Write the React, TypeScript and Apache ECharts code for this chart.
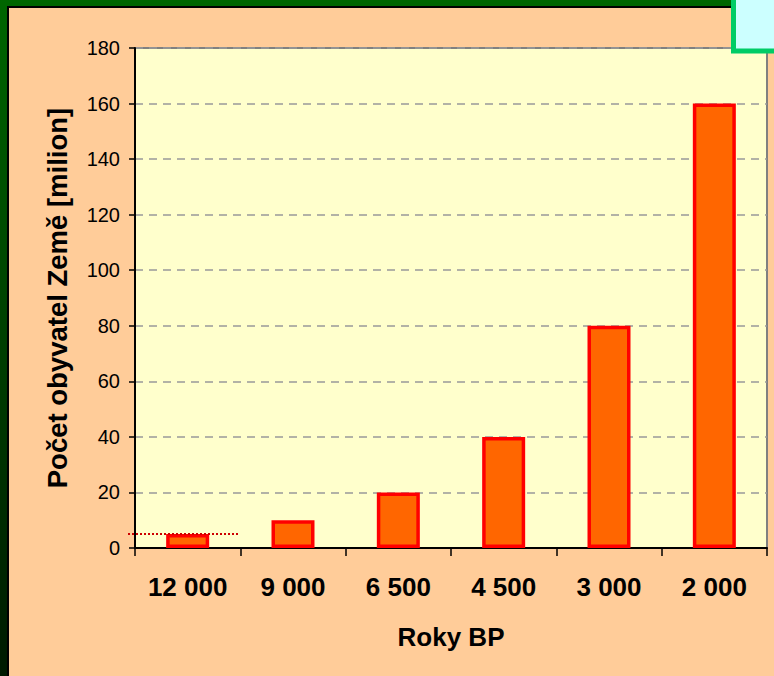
import React, { useEffect, useRef } from "react";
import * as echarts from "echarts";

const categories = ["12 000", "9 000", "6 500", "4 500", "3 000", "2 000"];
const population = [5, 10, 20, 40, 80, 160];
const referenceLevel = 5;
const yTicks = { min: 0, max: 180, interval: 20 };

const FONT = "'Liberation Sans', Arial, sans-serif";

export default function App() {
  const ref = useRef<HTMLDivElement>(null);
  useEffect(() => {
    document.body.style.margin = "0";
    const chart = echarts.init(ref.current!, undefined, { renderer: "svg" });
    chart.setOption({
      animation: false,
      graphic: [
        {
          type: "rect",
          z: -20,
          silent: true,
          shape: { x: 0, y: 0, width: 774, height: 676 },
          style: {
            fill: new echarts.graphic.LinearGradient(0, 0, 0, 1, [
              { offset: 0, color: "#006600" },
              { offset: 1, color: "#001a00" },
            ]),
          },
        },
        {
          type: "rect",
          z: -19,
          silent: true,
          shape: { x: 8, y: 7, width: 800, height: 700 },
          style: { fill: "#FFCC99", stroke: "#000000", lineWidth: 2 },
        },
        {
          type: "rect",
          z: 100,
          silent: true,
          shape: { x: 733.5, y: -10, width: 50, height: 61 },
          style: { fill: "#CCFFFF", stroke: "#00CC66", lineWidth: 5 },
        },
      ],
      grid: {
        left: 135,
        right: 7,
        top: 48,
        bottom: 128,
        show: true,
        backgroundColor: "#FFFFCC",
        borderColor: "#808080",
        borderWidth: 2,
      },
      xAxis: {
        type: "category",
        data: categories,
        name: "Roky BP",
        nameLocation: "middle",
        nameGap: 76,
        nameTextStyle: { fontFamily: FONT, fontSize: 26, fontWeight: "bold", color: "#000" },
        axisLine: { lineStyle: { color: "#000", width: 2 } },
        axisTick: { show: true, alignWithLabel: false, length: 8, lineStyle: { color: "#000", width: 1.5 } },
        axisLabel: { fontFamily: FONT, fontSize: 26, fontWeight: "bold", color: "#000", margin: 26 },
        splitLine: { show: false },
      },
      yAxis: {
        type: "value",
        min: yTicks.min,
        max: yTicks.max,
        interval: yTicks.interval,
        name: "Počet obyvatel Země [milion]",
        nameLocation: "middle",
        nameGap: 64,
        nameTextStyle: { fontFamily: FONT, fontSize: 27.5, fontWeight: "bold", color: "#000" },
        axisLine: { show: true, lineStyle: { color: "#000", width: 2 } },
        axisTick: { show: true, length: 6, lineStyle: { color: "#000", width: 1.5 } },
        axisLabel: { fontFamily: FONT, fontSize: 20, color: "#000", margin: 15 },
        splitLine: { show: true, lineStyle: { color: "#999999", type: [8, 6], width: 1.5 } },
      },
      series: [
        {
          type: "bar",
          data: population,
          barWidth: 43,
          itemStyle: { color: "#FF6600", borderColor: "#FF0000", borderWidth: 3.5 },
          markLine: {
            silent: true,
            symbol: "none",
            label: { show: false },
            lineStyle: { color: "#CC0000", type: [2, 2], width: 2 },
            data: [
              [
                { xAxis: 0, yAxis: referenceLevel, x: 128 },
                { xAxis: 0, yAxis: referenceLevel, x: 238 },
              ],
            ],
          },
        },
      ],
    });
    return () => chart.dispose();
  }, []);
  return (
    <div
      ref={ref}
      style={{ position: "absolute", left: 0, top: 0, width: 774, height: 676 }}
    />
  );
}
